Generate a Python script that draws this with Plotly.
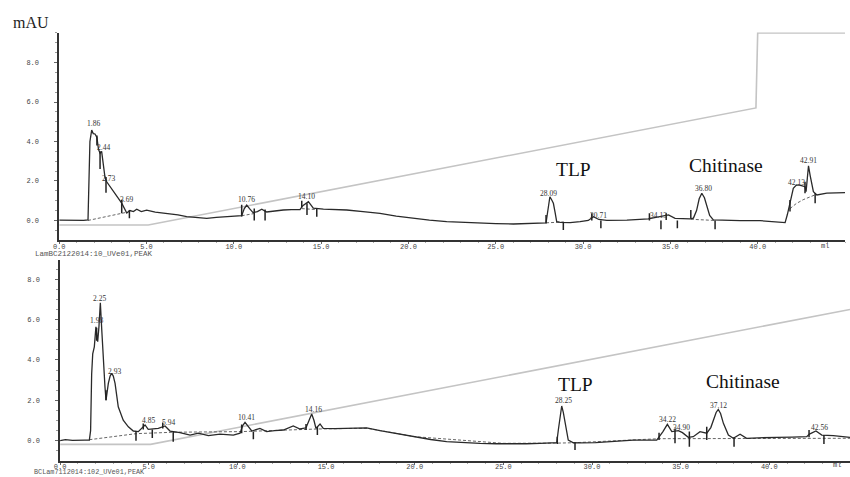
import plotly.graph_objects as go

# ---------------- DATA ----------------
# Top run (LamBC2122014:10)
top_ml = [0.0, 0.5, 1.0, 1.4, 1.65, 1.70, 1.76, 1.86, 1.95, 2.05, 2.16, 2.25, 2.34, 2.43, 2.50, 2.62, 2.72, 3.0, 3.3, 3.58,
          3.87, 4.05, 4.25, 4.44, 4.7, 5.01, 5.5, 6.16, 6.8, 7.30, 8.0, 8.45, 9.0, 9.59, 10.2, 10.45, 10.6, 10.74, 10.9, 11.10,
          11.35, 11.60, 11.88, 12.3, 12.83, 13.3, 13.79, 13.95, 14.1, 14.27, 14.4, 14.55, 15.13, 15.8, 16.47, 17.4, 18.37, 19.3,
          20.28, 21.2, 22.19, 23.1, 24.10, 25.0, 26.01, 27.0, 27.72, 27.88, 27.95, 28.03, 28.10, 28.2, 28.30, 28.40, 28.49, 28.7,
          29.26, 29.83, 30.3, 30.59, 30.9, 31.36, 32.51, 33.74, 34.22, 34.6, 34.89, 35.27, 35.7, 36.13, 36.32, 36.5, 36.65, 36.80,
          36.95, 37.1, 37.25, 37.46, 38.2, 39.0, 40.14, 41.0, 41.57, 41.7, 41.85, 42.04, 42.20, 42.33, 42.5, 42.71, 42.77, 42.85,
          42.91, 43.0, 43.19, 43.39, 43.6, 43.96, 44.5, 45.0]
top_mau = [0.02, 0.0, -0.01, 0.0, 0.03, 1.5, 4.0, 4.58, 4.4, 4.38, 4.2, 3.6, 3.4, 3.5, 3.0, 2.2, 1.96, 1.6, 1.25, 0.88,
           0.38, 0.5, 0.45, 0.57, 0.45, 0.52, 0.42, 0.36, 0.28, 0.19, 0.14, 0.11, 0.16, 0.19, 0.22, 0.24, 0.6, 0.78, 0.6, 0.40,
           0.45, 0.57, 0.43, 0.48, 0.53, 0.55, 0.55, 0.75, 0.85, 0.95, 0.8, 0.62, 0.57, 0.56, 0.53, 0.45, 0.36, 0.22,
           0.11, 0.02, -0.06, -0.1, -0.14, -0.16, -0.18, -0.16, -0.14, -0.12, 0.3, 0.9, 1.2, 1.05, 0.87, 0.4, -0.06, -0.1,
           -0.11, -0.06, 0.0, 0.19, 0.05, 0.0, 0.02, 0.08, 0.16, 0.2, 0.28, 0.11, 0.08, 0.08, 0.12, 0.5, 1.1, 1.38,
           1.15, 0.65, 0.25, 0.03, 0.0, -0.01, -0.01, -0.05, -0.11, 0.3, 0.87, 1.63, 1.78, 1.80, 1.76, 1.71, 1.46, 2.3,
           2.77, 2.3, 1.46, 1.29, 1.33, 1.38, 1.40, 1.41]
top_grad_ml = [0.0, 5.1, 39.9, 40.0, 45.0]
top_grad = [-0.23, -0.23, 5.70, 9.50, 9.50]

top_cut_ml = [2.16, 2.34, 2.68, 3.58, 4.02, 10.45, 11.17, 11.79, 13.89, 14.19, 14.75, 27.88, 28.87, 30.5, 31.02, 33.8,
              34.46, 34.76, 35.4, 36.17, 37.56, 41.85, 42.71, 43.29]
top_cut_lo = [3.8, 2.6, 1.4, 0.36, 0.11, 0.2, 0.0, 0.0, 0.65, 0.28, 0.19, -0.14, -0.48, 0.0, -0.4, 0.0,
              -0.45, 0.02, -0.4, 0.11, -0.45, 0.45, 1.38, 0.87]
top_cut_hi = [4.3, 3.5, 2.2, 1.04, 0.53, 0.8, 0.6, 0.55, 1.0, 0.87, 0.62, 0.28, -0.06, 0.36, 0.0, 0.36,
              0.0, 0.36, 0.0, 0.53, 0.0, 1.04, 1.96, 1.38]

top_base_ml = [1.65, 3.9, None, 10.45, 11.17, None, 13.89, 14.75, None, 27.88, 28.87, None, 36.17, 37.56, None,
               41.85, 42.2, 42.6, 43.0, 43.3]
top_base = [0.0, 0.42, None, 0.24, 0.35, None, 0.6, 0.55, None, -0.12, -0.08, None, 0.06, 0.0, None,
            0.6, 0.85, 1.05, 1.2, 1.3]

top_peak_text = ["1.86", "2.44", "2.73", "3.69", "10.76", "14.10", "28.09", "30.71", "34.13", "36.80", "42.13", "42.91"]
top_peak_ml = [1.99, 2.51, 2.80, 3.83, 10.70, 14.19, 28.0, 30.9, 34.3, 36.9, 42.24, 42.91]
top_peak_y = [4.89, 3.72, 2.15, 1.04, 1.04, 1.19, 1.38, 0.23, 0.24, 1.6, 1.93, 3.03]

# Bottom run (BCLam7112014:102)
bot_ml = [0.0, 0.3, 0.7, 1.1, 1.4, 1.65, 1.72, 1.78, 1.84, 1.93, 2.02, 2.06, 2.12, 2.19, 2.27, 2.35, 2.44, 2.53, 2.59, 2.72,
          2.82, 2.91, 3.0, 3.10, 3.28, 3.56, 3.85, 4.13, 4.41, 4.66, 4.79, 4.97, 5.26, 5.54, 5.92, 6.2, 6.76, 7.33, 7.79, 8.36,
          9.02, 9.77, 10.15, 10.30, 10.43, 10.6, 10.81, 11.27, 11.65, 12.1, 12.59, 13.15, 13.53, 13.87, 14.05, 14.19, 14.32,
          14.43, 14.66, 14.84, 15.5, 16.16, 17.29, 18.04, 19.0, 19.92, 20.9, 21.80, 22.7, 23.68, 24.6, 25.56, 26.3, 27.07,
          28.01, 28.10, 28.2, 28.29, 28.38, 28.48, 28.58, 28.66, 28.95, 29.32, 30.2, 31.02, 32.33, 33.65, 33.8, 34.0, 34.25,
          34.5, 34.87, 35.1, 35.43, 35.71, 36.09, 36.47, 36.7, 36.84, 37.0, 37.12, 37.25, 37.41, 37.69, 37.97, 38.35, 38.72,
          39.5, 40.42, 41.3, 42.11, 42.26, 42.63, 42.96, 43.61, 44.55]
bot_mau = [0.0, 0.05, 0.02, 0.04, 0.03, 0.03, 0.5, 3.3, 4.3, 4.65, 5.64, 5.3, 4.9, 5.64, 6.83, 5.48, 3.83, 2.67, 2.01, 2.84,
           3.2, 3.34, 3.2, 2.84, 1.68, 1.02, 0.69, 0.48, 0.45, 0.69, 0.78, 0.56, 0.58, 0.61, 0.73, 0.48, 0.40, 0.28, 0.37, 0.25,
           0.33, 0.28, 0.37, 0.75, 0.91, 0.7, 0.48, 0.61, 0.45, 0.5, 0.53, 0.73, 0.58, 0.64, 1.0, 1.32, 1.0,
           0.61, 0.83, 0.61, 0.6, 0.61, 0.64, 0.50, 0.35, 0.20, 0.06, -0.05, -0.1, -0.13, -0.15, -0.16, -0.15, -0.13,
           -0.1, 0.53, 1.3, 1.72, 1.4, 0.86, 0.35, 0.03, -0.1, -0.11, -0.09, -0.05, 0.03, 0.03, 0.2, 0.45, 0.81,
           0.45, 0.5, 0.4, 0.17, 0.2, 0.45, 0.37, 0.65, 1.02, 1.4, 1.55, 1.35, 0.86, 0.28, 0.12, 0.32, 0.12,
           0.15, 0.17, 0.18, 0.2, 0.33, 0.48, 0.28, 0.25, 0.17]
bot_grad_ml = [0.0, 5.1, 44.55]
bot_grad = [-0.18, -0.18, 6.50]

bot_cut_ml = [2.06, 2.59, 4.28, 4.69, 5.2, 5.79, 6.38, 10.24, 10.9, 13.87, 14.51, 28.04, 29.04, 33.78, 34.68, 35.49,
              36.47, 38.01, 42.24, 43.08]
bot_cut_lo = [4.95, 2.0, 0.0, 0.56, 0.13, 0.6, -0.05, 0.37, 0.07, 0.53, 0.28, -0.16, -0.46, 0.03, -0.13, -0.3,
              0.03, -0.3, 0.17, -0.16]
bot_cut_hi = [5.6, 2.5, 0.45, 0.85, 0.56, 0.9, 0.45, 0.8, 0.45, 0.83, 0.69, 0.2, -0.1, 0.4, 0.61, 0.45,
              0.69, 0.17, 0.53, 0.28]

bot_base_ml = [1.65, 4.3, 6.4, 10.2, 14.5, 17.3, 20.0, 25.0, 28.0, 29.0, 33.8, 44.55]
bot_base = [0.05, 0.35, 0.42, 0.45, 0.58, 0.62, 0.2, -0.13, -0.12, -0.1, 0.1, 0.12]

bot_peak_text = ["1.98", "2.25", "2.93", "4.85", "5.94", "10.41", "14.16", "28.25", "34.22", "34.90", "37.12", "42.56"]
bot_peak_ml = [2.06, 2.25, 3.06, 4.97, 6.1, 10.52, 14.28, 28.38, 34.25, 35.06, 37.12, 42.82]
bot_peak_y = [5.94, 7.05, 3.45, 0.98, 0.89, 1.14, 1.57, 1.97, 1.06, 0.64, 1.72, 0.66]

x_ticks = [0, 5, 10, 15, 20, 25, 30, 35, 40]
x_tick_text = ["0.0", "5.0", "10.0", "15.0", "20.0", "25.0", "30.0", "35.0", "40.0"]
y_ticks = [0, 2, 4, 6, 8]
y_tick_text = ["0.0", "2.0", "4.0", "6.0", "8.0"]

# ---------------- FIGURE ----------------
W, H = 850, 477
fig = go.Figure()


def segs(xs, lo, hi):
    sx, sy = [], []
    for x, a, b in zip(xs, lo, hi):
        sx += [x, x, None]
        sy += [a, b, None]
    return sx, sy


for (ml, mau, gml, g, cml, clo, chi, bml, bb, xa, ya) in [
    (top_ml, top_mau, top_grad_ml, top_grad, top_cut_ml, top_cut_lo, top_cut_hi, top_base_ml, top_base, "x", "y"),
    (bot_ml, bot_mau, bot_grad_ml, bot_grad, bot_cut_ml, bot_cut_lo, bot_cut_hi, bot_base_ml, bot_base, "x2", "y2"),
]:
    fig.add_trace(go.Scatter(x=gml, y=g, mode="lines", line=dict(color="#c4c4c4", width=1.6),
                             xaxis=xa, yaxis=ya, hoverinfo="skip", cliponaxis=False))
    fig.add_trace(go.Scatter(x=bml, y=bb, mode="lines", line=dict(color="#555", width=0.9, dash="3px,2px"),
                             connectgaps=False, xaxis=xa, yaxis=ya, hoverinfo="skip"))
    fig.add_trace(go.Scatter(x=ml, y=mau, mode="lines", line=dict(color="#2a2a2a", width=1.3),
                             xaxis=xa, yaxis=ya))
    sx, sy = segs(cml, clo, chi)
    fig.add_trace(go.Scatter(x=sx, y=sy, mode="lines", line=dict(color="#222", width=1.5),
                             connectgaps=False, xaxis=xa, yaxis=ya, hoverinfo="skip"))

tickfont = dict(family="Liberation Mono", size=7, color="#444")
ax_common = dict(showline=True, linecolor="#333", linewidth=1.6, showgrid=False, zeroline=False,
                 ticks="outside", tickcolor="#666", tickwidth=1, tickfont=tickfont,
                 automargin=False)

fig.update_layout(
    width=W, height=H, margin=dict(l=0, r=0, t=0, b=0, pad=0),
    paper_bgcolor="white", plot_bgcolor="white", showlegend=False,
    xaxis=dict(domain=[59.2 / W, 845 / W], range=[0, 45.0], anchor="y",
               tickvals=x_ticks, ticktext=x_tick_text, ticklen=2, ticklabelstandoff=-3,
               minor=dict(ticks="outside", ticklen=1.5, dtick=1, tickcolor="#aaa"), **ax_common),
    yaxis=dict(domain=[(H - 240) / H, (H - 32.5) / H], range=[-0.99, 9.52], anchor="x",
               tickvals=y_ticks, ticktext=y_tick_text, ticklen=3, ticklabelstandoff=14,
               minor=dict(ticks="outside", ticklen=2, dtick=0.5, tickcolor="#999"), **ax_common),
    xaxis2=dict(domain=[60.1 / W, 1.0], range=[0, 44.55], anchor="y2",
                tickvals=x_ticks, ticktext=x_tick_text, ticklen=2, ticklabelstandoff=-4,
                minor=dict(ticks="outside", ticklen=1.5, dtick=1, tickcolor="#aaa"), **ax_common),
    yaxis2=dict(domain=[(H - 460.7) / H, (H - 260) / H], range=[-0.99, 8.95], anchor="x2",
                tickvals=y_ticks, ticktext=y_tick_text, ticklen=3, ticklabelstandoff=14,
                minor=dict(ticks="outside", ticklen=2, dtick=0.5, tickcolor="#999"), **ax_common),
)

annos = []
pk_font = dict(family="Liberation Serif", size=7.5, color="#333")
for t, x, y in zip(top_peak_text, top_peak_ml, top_peak_y):
    annos.append(dict(text=t, x=x, y=y, xref="x", yref="y", showarrow=False, font=pk_font))
for t, x, y in zip(bot_peak_text, bot_peak_ml, bot_peak_y):
    annos.append(dict(text=t, x=x, y=y, xref="x2", yref="y2", showarrow=False, font=pk_font))

big = dict(family="Liberation Serif", size=19.5, color="#111")
annos += [
    dict(text="TLP", x=29.48, y=2.56, xref="x", yref="y", showarrow=False, font=big),
    dict(text="Chitinase", x=38.16, y=2.77, xref="x", yref="y", showarrow=False, font=big),
    dict(text="TLP", x=29.07, y=2.76, xref="x2", yref="y2", showarrow=False, font=big),
    dict(text="Chitinase", x=38.5, y=2.92, xref="x2", yref="y2", showarrow=False, font=big),
    dict(text="mAU", x=31 / W, y=(H - 22) / H, xref="paper", yref="paper", showarrow=False,
         xanchor="center", yanchor="middle",
         font=dict(family="Liberation Serif", size=16, color="#222")),
    dict(text="LamBC2122014:10_UVe01,PEAK", x=33 / W, y=(H - 254) / H, xref="paper", yref="paper",
         xanchor="left", yanchor="middle", showarrow=False,
         font=dict(family="Liberation Mono", size=7.5, color="#555")),
    dict(text="BCLam7112014:102_UVe01,PEAK", x=33 / W, y=0.0, xref="paper", yref="paper",
         xanchor="left", yanchor="bottom", showarrow=False, borderpad=0,
         font=dict(family="Liberation Mono", size=6.8, color="#555")),
    dict(text="ml", x=825 / W, y=(H - 246) / H, xref="paper", yref="paper", showarrow=False,
         xanchor="center", yanchor="middle",
         font=dict(family="Liberation Mono", size=7, color="#444")),
    dict(text="ml", x=837 / W, y=(H - 465) / H, xref="paper", yref="paper", showarrow=False,
         xanchor="center", yanchor="middle",
         font=dict(family="Liberation Mono", size=7, color="#444")),
]
fig.update_layout(annotations=annos)

fig.write_html("out.html", config={"displayModeBar": False},
               post_script="document.body.style.margin='0';document.body.style.overflow='hidden';")
